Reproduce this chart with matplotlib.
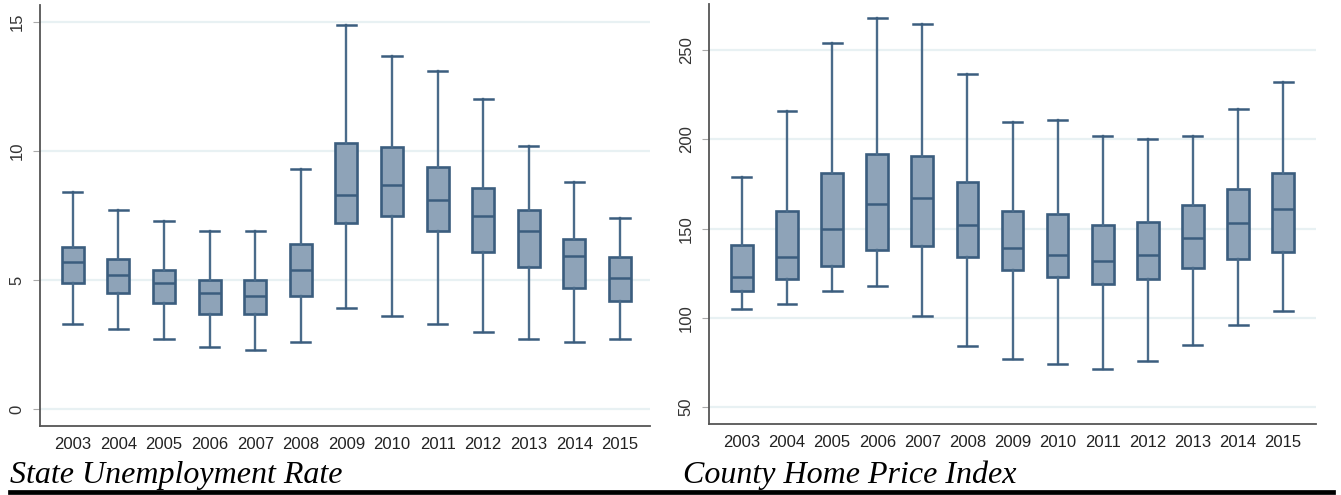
import numpy as np
import matplotlib.pyplot as plt
from matplotlib.lines import Line2D

years = [str(y) for y in range(2003, 2016)]

# state unemployment rate: lower whisker, q1, median, q3, upper whisker
unemp_lo = [3.3, 3.1, 2.7, 2.4, 2.3, 2.6, 3.9, 3.6, 3.3, 3.0, 2.7, 2.6, 2.7]
unemp_q1 = [4.9, 4.5, 4.1, 3.7, 3.7, 4.4, 7.2, 7.5, 6.9, 6.1, 5.5, 4.7, 4.2]
unemp_med = [5.7, 5.2, 4.9, 4.5, 4.4, 5.4, 8.3, 8.7, 8.1, 7.5, 6.9, 5.95, 5.1]
unemp_q3 = [6.3, 5.8, 5.4, 5.0, 5.0, 6.4, 10.3, 10.15, 9.4, 8.55, 7.7, 6.6, 5.9]
unemp_hi = [8.4, 7.7, 7.3, 6.9, 6.9, 9.3, 14.9, 13.7, 13.1, 12.0, 10.2, 8.8, 7.4]

# county home price index
hpi_lo = [105, 108, 115, 118, 101, 84, 77, 74, 71, 76, 85, 96, 104]
hpi_q1 = [115, 122, 129, 138, 140, 134, 127, 123, 119, 122, 128, 133, 137]
hpi_med = [123, 134, 150, 164, 167, 152, 139, 135, 132, 135, 145, 153, 161]
hpi_q3 = [141, 160, 181, 192, 191, 176, 160, 158, 152, 154, 163, 172, 181]
hpi_hi = [179, 216, 254, 268, 265, 237, 210, 211, 202, 200, 202, 217, 232]

fill = '#8ea3b8'
edge = '#3b5d7e'
grid = '#e8f1f3'

fig = plt.figure(figsize=(13.41, 4.95), dpi=100)


def panel(rect, lo, q1, med, q3, hi, yticks, ylim, xlim):
    ax = fig.add_axes(rect)
    stats = [dict(whislo=a, q1=b, med=c, q3=d, whishi=e, label=y)
             for a, b, c, d, e, y in zip(lo, q1, med, q3, hi, years)]
    ax.bxp(stats, positions=range(1, 14), widths=0.48, showfliers=False,
           patch_artist=True,
           boxprops=dict(facecolor=fill, edgecolor=edge, linewidth=1.9),
           medianprops=dict(color=edge, linewidth=1.8),
           whiskerprops=dict(color='#4a6b8a', linewidth=1.7),
           capprops=dict(color=edge, linewidth=1.8),
           capwidths=0.42)
    ax.set_yticks(yticks)
    ax.set_yticklabels([str(t) for t in yticks], rotation=90, va='center',
                       fontsize=12, color='#333333', family='Liberation Sans')
    ax.set_xticklabels(years, fontsize=12, color='#222222',
                       family='Liberation Sans')
    ax.set_ylim(*ylim)
    ax.set_xlim(*xlim)
    for t in yticks:
        ax.axhline(t, color=grid, lw=1.6, zorder=0)
    ax.spines['top'].set_visible(False)
    ax.spines['right'].set_visible(False)
    ax.spines['left'].set_color('#555555')
    ax.spines['bottom'].set_color('#555555')
    ax.spines['left'].set_linewidth(1.3)
    ax.spines['bottom'].set_linewidth(1.3)
    ax.tick_params(axis='x', length=0, pad=8)
    ax.tick_params(axis='y', length=5, color='#aaaaaa', pad=6)
    return ax


panel([0.0298, 0.139, 0.455, 0.851], unemp_lo, unemp_q1, unemp_med,
      unemp_q3, unemp_hi, [0, 5, 10, 15], (-0.66, 15.66), (0.28, 13.66))
panel([0.5287, 0.1434, 0.4527, 0.8485], hpi_lo, hpi_q1, hpi_med,
      hpi_q3, hpi_hi, [50, 100, 150, 200, 250], (40.4, 276), (0.27, 13.73))

fig.text(10 / 1341, 1 - 483 / 495, 'State Unemployment Rate', fontsize=23,
         style='italic', family='Liberation Serif', va='baseline')
fig.text(683 / 1341, 1 - 483 / 495, 'County Home Price Index', fontsize=23,
         style='italic', family='Liberation Serif', va='baseline')
fig.add_artist(Line2D([10 / 1341, 1333 / 1341], [1 - 491.5 / 495] * 2,
                      color='black', lw=3.4, transform=fig.transFigure))

fig.savefig('out.png', dpi=100)
